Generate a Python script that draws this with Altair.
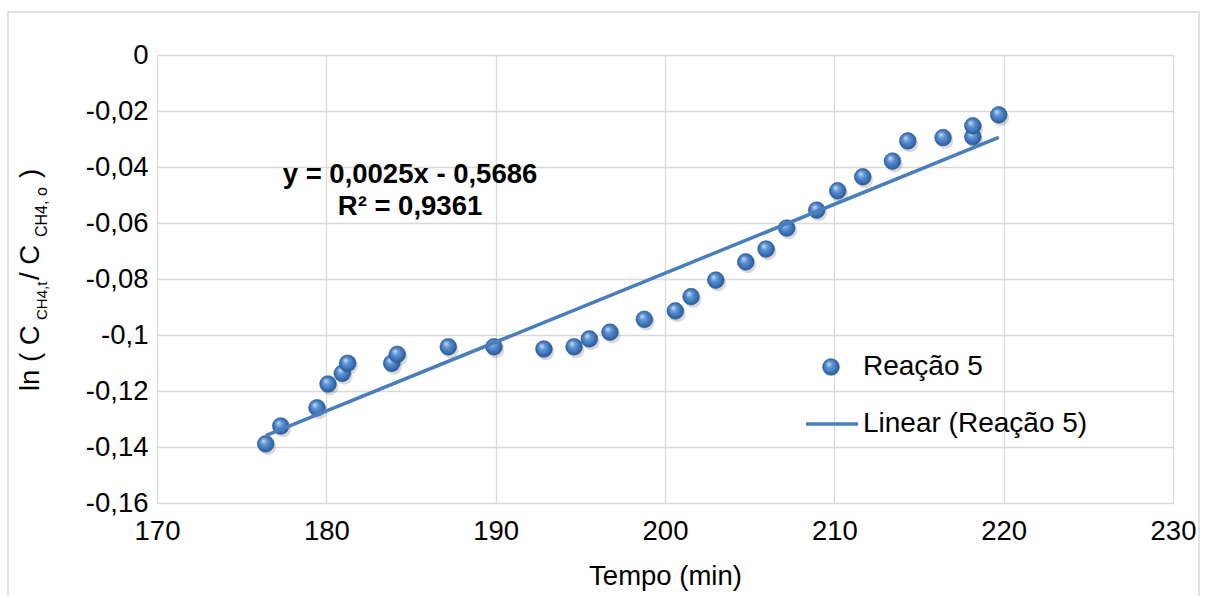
import altair as alt
import pandas as pd

# ---- data ----
tempo = [176.42, 177.31, 179.45, 180.10, 180.94, 181.26, 183.86, 184.19, 187.20, 189.90,
         192.85, 194.63, 195.53, 196.75, 198.78, 200.61, 201.54, 203.00, 204.77, 205.97,
         207.19, 208.96, 210.20, 211.68, 213.43, 214.34, 216.42, 218.18, 218.18, 219.71]
ln_ratio = [-0.1389, -0.1325, -0.1260, -0.1175, -0.1137, -0.1101, -0.1101, -0.1069, -0.1042, -0.1042,
            -0.1050, -0.1042, -0.1014, -0.0990, -0.0944, -0.0914, -0.0863, -0.0804, -0.0739, -0.0693,
            -0.0618, -0.0554, -0.0485, -0.0435, -0.0379, -0.0307, -0.0295, -0.0292, -0.0253, -0.0214]
x_ticks = [170, 180, 190, 200, 210, 220, 230]
y_ticks = [-0.16, -0.14, -0.12, -0.10, -0.08, -0.06, -0.04, -0.02, 0.0]
series_name = "Reação 5"
trend_name = "Linear (Reação 5)"
eq_line1 = "y = 0,0025x - 0,5686"
eq_line2 = "R² = 0,9361"
x_title = "Tempo (min)"

df = pd.DataFrame({"t": tempo, "y": ln_ratio})
one = alt.Data(values=[{"k": 0}])

FONT = "Liberation Sans"
BLUE = "#4a7ebb"
FS = 27.5

xs = alt.Scale(domain=[170, 230], nice=False, zero=False)
ys = alt.Scale(domain=[-0.16, 0], nice=False, zero=False)

x_enc = alt.X("t:Q", scale=xs, axis=alt.Axis(
    values=x_ticks, grid=True, gridColor="#d9d9d9", gridWidth=1.3, domain=False, ticks=False,
    labelFont=FONT, labelFontSize=FS, labelColor="#000000", labelPadding=14, labelFlush=False,
    labelOverlap=False,
    title=x_title, titleFont=FONT, titleFontSize=FS, titleFontWeight="normal",
    titleColor="#000000", titlePadding=18))
y_enc = alt.Y("y:Q", scale=ys, axis=alt.Axis(
    values=y_ticks, grid=True, gridColor="#d9d9d9", gridWidth=1.3, domain=False, ticks=False,
    labelFont=FONT, labelFontSize=FS, labelColor="#000000", labelPadding=9, labelFlush=False,
    labelOverlap=False,
    labelExpr="replace(replace(format(datum.value, '.2~f'), '\u2212', '-'), '.', ',')",
    title=None))

sphere = alt.RadialGradient(
    gradient="radial", x1=0.35, y1=0.3, r1=0.0, x2=0.5, y2=0.5, r2=0.55,
    stops=[alt.GradientStop(offset=0, color="#cfe2f8"),
           alt.GradientStop(offset=0.35, color="#5f96d6"),
           alt.GradientStop(offset=0.8, color="#3468ab"),
           alt.GradientStop(offset=1, color="#27528a")])

base = alt.Chart(df)

shadow = base.mark_circle(size=280, color="#000000", opacity=0.15, xOffset=2, yOffset=3).encode(x=x_enc, y=y_enc)
points = base.mark_point(shape="circle", filled=True, size=280, fill=sphere, stroke="#2c5a92",
                         strokeWidth=0.6, opacity=1).encode(x=x_enc, y=y_enc)
trend = base.transform_regression("t", "y").mark_line(color=BLUE, strokeWidth=3.5).encode(
    x=alt.X("t:Q", scale=xs), y=alt.Y("y:Q", scale=ys))

# chart border
border = alt.Chart(one).mark_rect(fillOpacity=0, stroke="#d9d9d9", strokeWidth=1.5).encode(
    x=alt.value(-149), x2=alt.value(1042), y=alt.value(-43), y2=alt.value(560))

# equation annotation
eq1 = alt.Chart(one).mark_text(font=FONT, fontSize=FS, fontWeight="bold", align="center",
                               baseline="middle", color="#000000").encode(
    x=alt.value(253), y=alt.value(120), text=alt.value(eq_line1))
eq2 = alt.Chart(one).mark_text(font=FONT, fontSize=FS, fontWeight="bold", align="center",
                               baseline="middle", color="#000000").encode(
    x=alt.value(253), y=alt.value(152), text=alt.value(eq_line2))

# legend
leg_pt = alt.Chart(one).mark_point(shape="circle", filled=True, size=280, fill=sphere, stroke="#2c5a92",
                                   strokeWidth=0.6, opacity=1).encode(x=alt.value(674), y=alt.value(312))
leg_line = alt.Chart(one).mark_rule(color=BLUE, strokeWidth=3.5).encode(
    x=alt.value(649), x2=alt.value(701), y=alt.value(369))
leg_t1 = alt.Chart(one).mark_text(font=FONT, fontSize=28, align="left", baseline="middle",
                                  color="#000000").encode(x=alt.value(706), y=alt.value(312), text=alt.value(series_name))
leg_t2 = alt.Chart(one).mark_text(font=FONT, fontSize=28, align="left", baseline="middle",
                                  color="#000000").encode(x=alt.value(706), y=alt.value(369), text=alt.value(trend_name))

# rotated y-axis title with subscripts: ln ( C_CH4,t / C_CH4,o )
title_parts = [
    ("ln ( C", 336, FS, -126),
    ("CH4,t", 265, 15, -115),
    ("/ C", 225, FS, -126),
    ("CH4, o", 182, 16, -115),
    (")", 123, FS, -126),
]
ytitle_layers = []
for txt, ypos, fs, xpos in title_parts:
    ytitle_layers.append(
        alt.Chart(one).mark_text(font=FONT, fontSize=fs, angle=270, align="left", baseline="middle",
                                 color="#000000").encode(
            x=alt.value(xpos), y=alt.value(ypos), text=alt.value(txt)))

chart = alt.layer(border, shadow, points, trend, eq1, eq2, leg_pt, leg_line, leg_t1, leg_t2,
                  *ytitle_layers).properties(
    width=1016, height=448,
    padding={"left": 157, "top": 55, "right": 35, "bottom": 93},
    autosize=alt.AutoSizeParams(type="none"),
    background="white",
).configure_view(stroke="transparent")

chart.save("out.html", embed_options={"renderer": "svg", "actions": False})
